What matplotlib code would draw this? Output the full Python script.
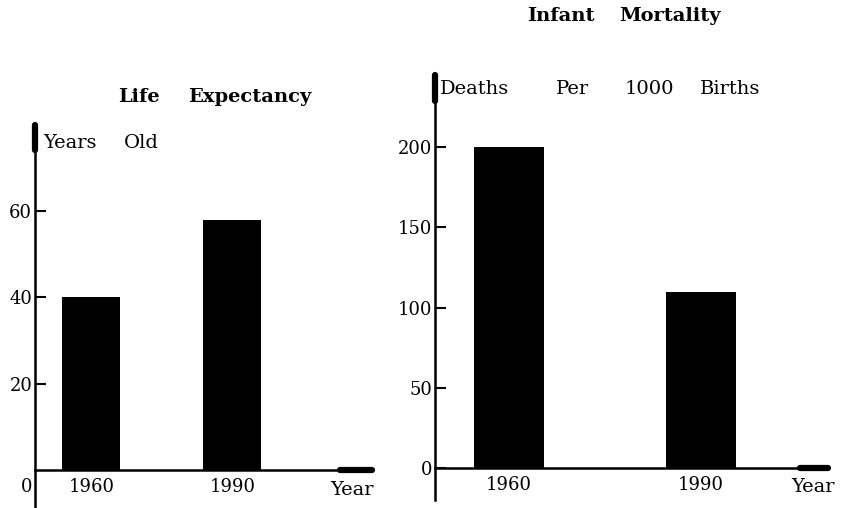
import matplotlib
matplotlib.use('Agg')
import matplotlib.pyplot as plt

# Data
years = ['1960', '1990']
life_expectancy = [40, 58]
infant_mortality = [200, 110]

life_ticks = [20, 40, 60]
mortality_ticks = [0, 50, 100, 150, 200]

plt.rcParams['font.family'] = 'DejaVu Serif'
plt.rcParams['font.size'] = 13

W, H = 845, 508
fig = plt.figure(figsize=(W / 100, H / 100), dpi=100)


def px_rect(x0, x1, y0, y1):
    """Axes rectangle from pixel edges (y measured from the top)."""
    return [x0 / W, 1 - y1 / H, (x1 - x0) / W, (y1 - y0) / H]


def put(x, y, s, **kw):
    """Place a text at a pixel position of the figure."""
    fig.text(x / W, 1 - y / H, s, va='center', **kw)


def put_words(y, words, starts, **kw):
    # the scanned labels have wide, uneven gaps between words
    for w, x in zip(words, starts):
        put(x, y, w, ha='left', **kw)


def draw_panel(rect, values, ticks, xlim, ylim, width, y_arrow, x_arrow):
    ax = fig.add_axes(rect)
    ax.bar(range(len(values)), values, width=width, color='black')
    ax.set_xlim(*xlim)
    ax.set_ylim(*ylim)

    for side in ['top', 'right']:
        ax.spines[side].set_visible(False)
    ax.spines['bottom'].set_position(('data', 0))
    ax.spines['left'].set_linewidth(1.8)
    ax.spines['bottom'].set_linewidth(1.8)

    ax.set_yticks(ticks)
    ax.tick_params(axis='y', direction='in', length=8, width=1.5, pad=2,
                   labelsize=13)
    ax.set_xticks(range(len(years)))
    ax.set_xticklabels(years)
    ax.tick_params(axis='x', length=0, pad=6, labelsize=13)

    # axis arrows
    ax.plot([0, 0], [y_arrow, 1], transform=ax.transAxes, color='black',
            lw=4.5, solid_capstyle='round', clip_on=False)
    ax.plot([x_arrow, 1], [0, 0], transform=ax.get_yaxis_transform(),
            color='black', lw=4.5, solid_capstyle='round', clip_on=False)
    return ax


# Left panel: life expectancy
draw_panel(px_rect(35, 372, 125, 507), life_expectancy, life_ticks,
           (-0.40, 1.99), (-8.6, 80), 0.41, 0.935, 0.905)
put_words(97, ['Life', 'Expectancy'], [118, 188], fontsize=14, fontweight='bold')
put_words(143, ['Years', 'Old'], [43, 124], fontsize=14)
put(27, 487, '0', ha='center', fontsize=13)
put(352, 490, 'Year', ha='center', fontsize=14)

# Right panel: infant mortality
draw_panel(px_rect(435, 828, 75, 500), infant_mortality, mortality_ticks,
           (-0.385, 1.661), (-19.9, 244.9), 0.365, 0.94, 0.93)
put_words(16, ['Infant', 'Mortality'], [527, 619], fontsize=14, fontweight='bold')
put_words(89, ['Deaths', 'Per', '1000', 'Births'], [440, 556, 625, 700],
          fontsize=14)
put(813, 487, 'Year', ha='center', fontsize=14)

fig.savefig('out.png', dpi=100)
